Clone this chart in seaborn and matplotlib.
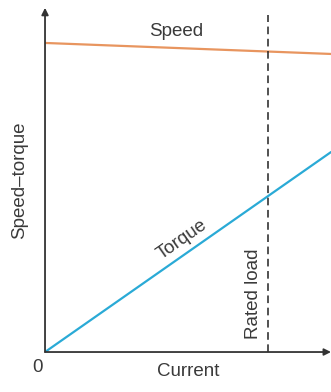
import numpy as np
import pandas as pd
import matplotlib.pyplot as plt
import seaborn as sns

# values (current normalised 0..1)
current = [0.0, 1.0]
speed = [0.898, 0.866]
torque = [0.0, 0.581]
rated_load = 0.78

sns.set_style("white")
plt.rcParams["font.family"] = ["Liberation Sans", "DejaVu Sans"]
text_color = "#3a3a3a"
fs = 13.5

df = pd.DataFrame({"current": current * 2,
                   "value": speed + torque,
                   "curve": ["Speed"] * 2 + ["Torque"] * 2})

fig = plt.figure(figsize=(3.31, 3.92), dpi=100)
ax = fig.add_axes([0.136, 0.102, 0.864, 0.878])

sns.lineplot(data=df, x="current", y="value", hue="curve",
             palette={"Speed": "#e8955f", "Torque": "#2aaad6"},
             linewidth=1.6, legend=False, ax=ax)

ax.axvline(rated_load, ymin=0, ymax=0.98, color="#222222", linestyle=(0, (5, 3)), linewidth=1.1)

ax.set_xlim(0, 1)
ax.set_ylim(0, 1)
ax.set_xticks([])
ax.set_yticks([])
for side in ["top", "right", "left", "bottom"]:
    ax.spines[side].set_visible(False)

# arrowed axes
ax.annotate("", xy=(1.0, 0), xytext=(0, 0), xycoords="axes fraction",
            arrowprops=dict(arrowstyle="-|>", color="#333333", lw=1.3, mutation_scale=10,
                            shrinkA=0, shrinkB=0), annotation_clip=False)
ax.annotate("", xy=(0, 1.0), xytext=(0, 0), xycoords="axes fraction",
            arrowprops=dict(arrowstyle="-|>", color="#333333", lw=1.3, mutation_scale=10,
                            shrinkA=0, shrinkB=0), annotation_clip=False)

ax.set_xlabel("Current", fontsize=fs, color=text_color, labelpad=8)
ax.set_ylabel("Speed–torque", fontsize=fs, color=text_color, labelpad=12)
ax.text(-0.025, -0.02, "0", fontsize=fs, color=text_color, ha="center", va="top",
        transform=ax.transAxes)

ax.text(0.458, 0.93, "Speed", fontsize=fs, color=text_color, ha="center", va="center")
ax.text(0.48, 0.325, "Torque", fontsize=fs, color=text_color, ha="center", va="center",
        rotation=35)
ax.text(rated_load - 0.05, 0.17, "Rated load", fontsize=fs, color=text_color,
        ha="center", va="center", rotation=90)

fig.savefig("out.png", dpi=100)
